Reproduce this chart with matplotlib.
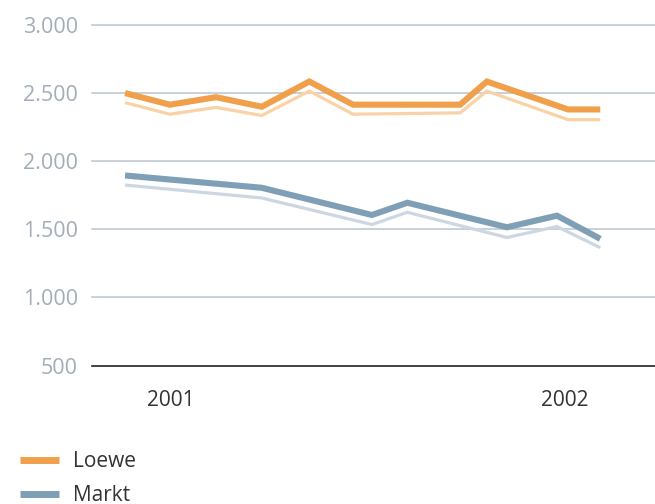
import matplotlib
matplotlib.use('Agg')
import matplotlib.pyplot as plt
from matplotlib.lines import Line2D

plt.rcParams['font.family'] = ['Open Sans', 'DejaVu Sans']

# Data (x in fractional years)
loewe_x      = [2000.883, 2000.997, 2001.114, 2001.230, 2001.351, 2001.462, 2001.734, 2001.802, 2002.008, 2002.090]
loewe        = [2500, 2415, 2470, 2400, 2585, 2415, 2415, 2585, 2380, 2380]
loewe_prev   = [2430, 2345, 2395, 2335, 2515, 2345, 2355, 2515, 2305, 2305]
markt_x      = [2000.883, 2001.230, 2001.510, 2001.600, 2001.853, 2001.980, 2002.090]
markt        = [1895, 1805, 1605, 1695, 1515, 1600, 1430]
markt_prev   = [1825, 1730, 1535, 1625, 1440, 1520, 1365]

y_ticks      = [500, 1000, 1500, 2000, 2500, 3000]
y_labels     = ['500', '1.000', '1.500', '2.000', '2.500', '3.000']
x_ticks      = [2001, 2002]
x_labels     = ['2001', '2002']

ORANGE, ORANGE_LIGHT = '#f0a04b', '#f9d2a6'
BLUE, BLUE_LIGHT = '#7f9fb6', '#cdd7e1'
GRID = '#b9c3cf'
LABEL = '#a3adba'

fig = plt.figure(figsize=(6.55, 5.04), dpi=100)
fig.patch.set_facecolor('white')
ax = fig.add_axes([92 / 655, 1 - 365.5 / 504, 1 - 92 / 655, (365.5 - 25) / 504])

for yv in y_ticks[1:]:
    ax.axhline(yv, color=GRID, lw=1.1, zorder=1, clip_on=False)
ax.axhline(y_ticks[0], color='#222222', lw=1.2, zorder=1, clip_on=False)

kw = dict(solid_joinstyle='miter', solid_capstyle='butt', zorder=3)
ax.plot(loewe_x, loewe_prev, color=ORANGE_LIGHT, lw=2.3, **kw)
ax.plot(markt_x, markt_prev, color=BLUE_LIGHT, lw=2.3, **kw)
ax.plot(loewe_x, loewe, color=ORANGE, lw=4.4, **kw)
ax.plot(markt_x, markt, color=BLUE, lw=4.4, **kw)

ax.set_xlim(2000.799, 2002.229)
ax.set_ylim(500, 3000)
ax.set_yticks(y_ticks)
ax.set_yticklabels(y_labels, fontsize=15.5, color=LABEL)
ax.set_xticks(x_ticks)
ax.set_xticklabels(x_labels, fontsize=15, color='#333333')
ax.tick_params(axis='y', length=0, pad=10)
ax.tick_params(axis='x', length=0, pad=18)
for s in ax.spines.values():
    s.set_visible(False)

handles = [Line2D([], [], color=ORANGE, lw=5, solid_capstyle='butt'),
           Line2D([], [], color=BLUE, lw=5, solid_capstyle='butt')]
fig.legend(handles, ['Loewe', 'Markt'], loc='upper left',
           bbox_to_anchor=(20 / 655, 1 - 451 / 504), frameon=False,
           fontsize=15, handlelength=1.85, handletextpad=0.7,
           labelspacing=0.64, borderpad=0, borderaxespad=0,
           labelcolor='#333333')

fig.savefig('out.png', dpi=100, facecolor='white')
